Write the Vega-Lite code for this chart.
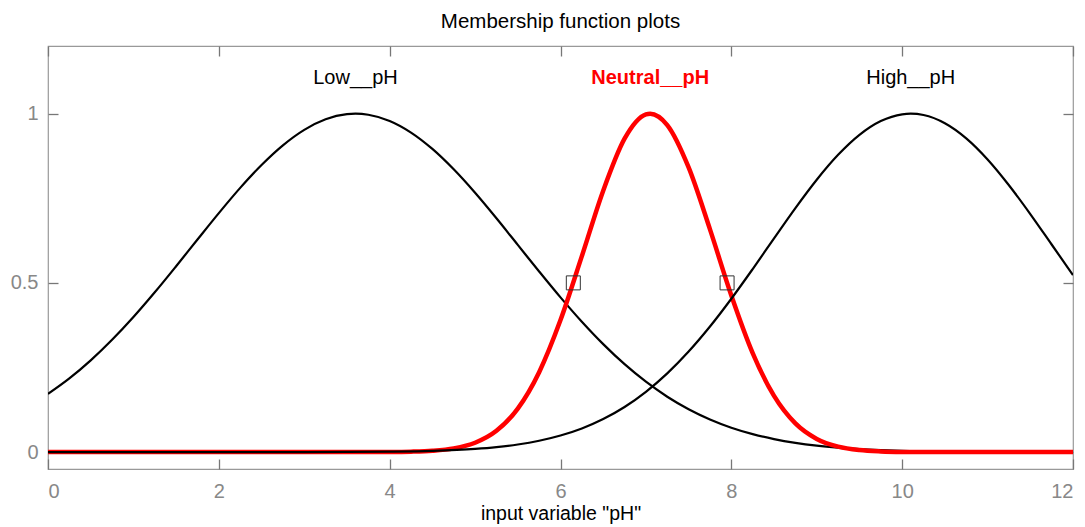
{
  "$schema": "https://vega.github.io/schema/vega-lite/v6.json",
  "width": 1025,
  "height": 423,
  "autosize": "none",
  "padding": {"left": 48, "top": 46, "right": 12, "bottom": 58},
  "background": "white",
  "title": {"text": "Membership function plots", "font": "Liberation Sans", "fontSize": 20.5, "fontWeight": "normal", "color": "black", "offset": 13},
  "config": {
    "view": {"stroke": "#999999", "strokeWidth": 1.2},
    "axis": {"domain": false, "grid": false, "ticks": true, "tickColor": "#777777", "tickSize": 10, "tickWidth": 1.3, "tickOpacity": 1, "offset": -10, "labelColor": "#888888", "labelFont": "Liberation Sans", "labelFontSize": 20, "titleFont": "Liberation Sans", "titleFontSize": 19.5, "titleFontWeight": "normal", "titleColor": "black"}
  },
  "datasets": {
    "low": [
      {"x": 0, "y": 0.1719}, {"x": 0.25, "y": 0.2177}, {"x": 0.5, "y": 0.271}, {"x": 0.75, "y": 0.3317},
      {"x": 1, "y": 0.3991}, {"x": 1.25, "y": 0.4722}, {"x": 1.5, "y": 0.5493}, {"x": 1.75, "y": 0.6282},
      {"x": 2, "y": 0.7062}, {"x": 2.25, "y": 0.7807}, {"x": 2.5, "y": 0.8484}, {"x": 2.75, "y": 0.9065},
      {"x": 3, "y": 0.9523}, {"x": 3.25, "y": 0.9835}, {"x": 3.5, "y": 0.9986}, {"x": 3.6, "y": 1},
      {"x": 3.75, "y": 0.9969}, {"x": 4, "y": 0.9785}, {"x": 4.25, "y": 0.9442}, {"x": 4.5, "y": 0.8958},
      {"x": 4.75, "y": 0.8355}, {"x": 5, "y": 0.7662}, {"x": 5.25, "y": 0.6908}, {"x": 5.5, "y": 0.6123},
      {"x": 5.75, "y": 0.5337}, {"x": 6, "y": 0.4572}, {"x": 6.25, "y": 0.3852}, {"x": 6.5, "y": 0.319},
      {"x": 6.75, "y": 0.2597}, {"x": 7, "y": 0.2079}, {"x": 7.25, "y": 0.1636}, {"x": 7.5, "y": 0.1266},
      {"x": 7.75, "y": 0.0963}, {"x": 8, "y": 0.072}, {"x": 8.25, "y": 0.053}, {"x": 8.5, "y": 0.0383},
      {"x": 8.75, "y": 0.0272}, {"x": 9, "y": 0.019}, {"x": 9.25, "y": 0.0131}, {"x": 9.5, "y": 0.0088},
      {"x": 9.75, "y": 0.0059}, {"x": 10, "y": 0.0038}, {"x": 10.5, "y": 0.0016}, {"x": 11, "y": 0.0006},
      {"x": 11.5, "y": 0.0002}, {"x": 12, "y": 0.0001}
    ],
    "neutral": [
      {"x": 0, "y": 0}, {"x": 1, "y": 0}, {"x": 2, "y": 0}, {"x": 3, "y": 0}, {"x": 3.5, "y": 0.00002},
      {"x": 4, "y": 0.00035}, {"x": 4.25, "y": 0.00124}, {"x": 4.5, "y": 0.00388}, {"x": 4.75, "y": 0.01092},
      {"x": 5, "y": 0.02763}, {"x": 5.25, "y": 0.06286}, {"x": 5.5, "y": 0.1285}, {"x": 5.75, "y": 0.2362},
      {"x": 6, "y": 0.3901}, {"x": 6.25, "y": 0.579}, {"x": 6.5, "y": 0.7724}, {"x": 6.75, "y": 0.926},
      {"x": 7, "y": 0.9979}, {"x": 7.05, "y": 1}, {"x": 7.25, "y": 0.9664}, {"x": 7.5, "y": 0.8412},
      {"x": 7.75, "y": 0.6581}, {"x": 8, "y": 0.4627}, {"x": 8.25, "y": 0.2924}, {"x": 8.5, "y": 0.166},
      {"x": 8.75, "y": 0.0847}, {"x": 9, "y": 0.0389}, {"x": 9.25, "y": 0.016}, {"x": 9.5, "y": 0.0059},
      {"x": 9.75, "y": 0.002}, {"x": 10, "y": 0.0006}, {"x": 10.5, "y": 0.00004}, {"x": 11, "y": 0},
      {"x": 12, "y": 0}
    ],
    "high": [
      {"x": 0, "y": 0}, {"x": 1, "y": 0}, {"x": 2, "y": 0.00001}, {"x": 3, "y": 0.00012}, {"x": 3.5, "y": 0.0004},
      {"x": 4, "y": 0.00125}, {"x": 4.5, "y": 0.00359}, {"x": 5, "y": 0.00938}, {"x": 5.25, "y": 0.01466},
      {"x": 5.5, "y": 0.02239}, {"x": 5.75, "y": 0.03348}, {"x": 6, "y": 0.0489}, {"x": 6.25, "y": 0.06985},
      {"x": 6.5, "y": 0.0976}, {"x": 6.75, "y": 0.1333}, {"x": 7, "y": 0.1781}, {"x": 7.25, "y": 0.2326},
      {"x": 7.5, "y": 0.2971}, {"x": 7.75, "y": 0.371}, {"x": 8, "y": 0.4531}, {"x": 8.25, "y": 0.5409},
      {"x": 8.5, "y": 0.6315}, {"x": 8.75, "y": 0.721}, {"x": 9, "y": 0.8048}, {"x": 9.25, "y": 0.8783},
      {"x": 9.5, "y": 0.9374}, {"x": 9.75, "y": 0.9782}, {"x": 10, "y": 0.9982}, {"x": 10.1, "y": 1},
      {"x": 10.25, "y": 0.996}, {"x": 10.5, "y": 0.9717}, {"x": 10.75, "y": 0.927}, {"x": 11, "y": 0.8647},
      {"x": 11.25, "y": 0.7886}, {"x": 11.5, "y": 0.7034}, {"x": 11.75, "y": 0.6134}, {"x": 12, "y": 0.523}
    ],
    "marks": [{"x": 6.15, "y": 0.5}, {"x": 7.95, "y": 0.5}],
    "labels": [
      {"label": "Low__pH", "x": 3.6, "y": 1.105, "sel": "no"},
      {"label": "Neutral__pH", "x": 7.05, "y": 1.105, "sel": "yes"},
      {"label": "High__pH", "x": 10.1, "y": 1.105, "sel": "no"}
    ]
  },
  "layer": [
    {
      "data": {"name": "low"},
      "mark": {"type": "line", "color": "black", "strokeWidth": 2.2, "interpolate": "monotone", "clip": true},
      "encoding": {
        "x": {"field": "x", "type": "quantitative", "scale": {"domain": [0, 12], "nice": false, "zero": false},
              "axis": {"orient": "bottom", "values": [0, 2, 4, 6, 8, 10, 12], "title": "input variable \"pH\"", "labelPadding": 12, "titlePadding": 3, "format": "d"}},
        "y": {"field": "y", "type": "quantitative", "scale": {"domain": [-0.05, 1.2], "nice": false, "zero": false},
              "axis": {"orient": "left", "values": [0, 0.5, 1], "title": null, "labelPadding": 10, "format": "~g"}}
      }
    },
    {
      "data": {"name": "neutral"},
      "mark": {"type": "line", "color": "#ff0000", "strokeWidth": 4.5, "interpolate": "monotone", "clip": true},
      "encoding": {
        "x": {"field": "x", "type": "quantitative", "axis": null},
        "y": {"field": "y", "type": "quantitative", "axis": null}
      }
    },
    {
      "data": {"name": "high"},
      "mark": {"type": "line", "color": "black", "strokeWidth": 2.2, "interpolate": "monotone", "clip": true},
      "encoding": {
        "x": {"field": "x", "type": "quantitative",
              "axis": {"orient": "top", "values": [0, 2, 4, 6, 8, 10, 12], "labels": false, "title": null}},
        "y": {"field": "y", "type": "quantitative",
              "axis": {"orient": "right", "values": [0, 0.5, 1], "labels": false, "title": null}}
      }
    },
    {
      "data": {"name": "marks"},
      "mark": {"type": "point", "shape": "square", "filled": false, "color": "#333333", "strokeWidth": 1, "size": 196, "opacity": 1},
      "encoding": {
        "x": {"field": "x", "type": "quantitative", "axis": null},
        "y": {"field": "y", "type": "quantitative", "axis": null}
      }
    },
    {
      "data": {"name": "labels"},
      "transform": [{"filter": "datum.sel == 'no'"}],
      "mark": {"type": "text", "font": "Liberation Sans", "fontSize": 20, "color": "black", "baseline": "middle", "align": "center"},
      "encoding": {
        "x": {"field": "x", "type": "quantitative", "axis": null},
        "y": {"field": "y", "type": "quantitative", "axis": null},
        "text": {"field": "label"}
      }
    },
    {
      "data": {"name": "labels"},
      "transform": [{"filter": "datum.sel == 'yes'"}],
      "mark": {"type": "text", "font": "Liberation Sans", "fontSize": 20, "fontWeight": "bold", "color": "#ff0000", "baseline": "middle", "align": "center"},
      "encoding": {
        "x": {"field": "x", "type": "quantitative", "axis": null},
        "y": {"field": "y", "type": "quantitative", "axis": null},
        "text": {"field": "label"}
      }
    }
  ],
  "resolve": {"axis": {"x": "independent", "y": "independent"}}
}
